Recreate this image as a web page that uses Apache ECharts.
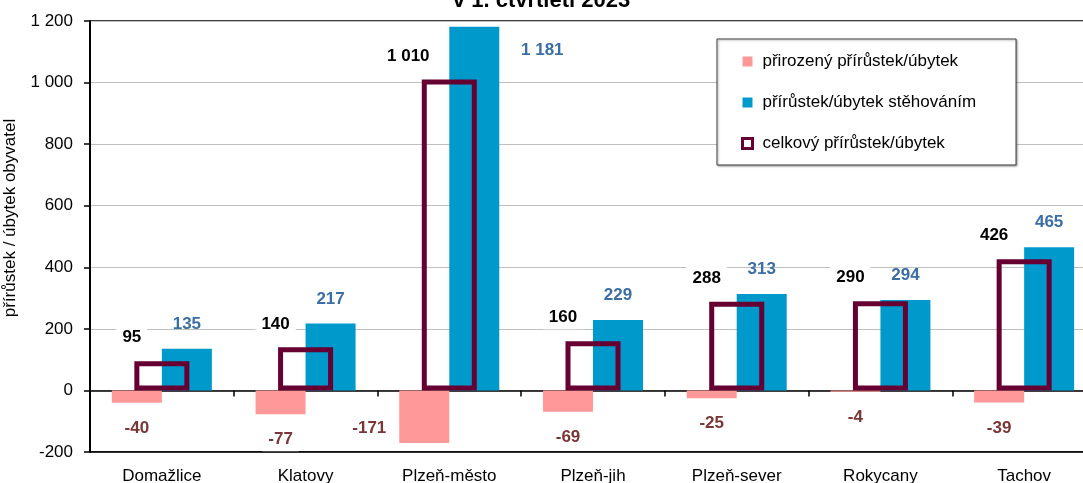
<!DOCTYPE html>
<html>
<head>
<meta charset="utf-8">
<script src="https://cdn.jsdelivr.net/npm/echarts@6/dist/echarts.min.js"></script>
<style>
    html, body { margin: 0; padding: 0; background: #fff; }
    #chart { width: 1083px; height: 483px; }
</style>
</head>
<body>
<div id="chart"></div>
<script>
var categories = ['Domažlice', 'Klatovy', 'Plzeň-město', 'Plzeň-jih', 'Plzeň-sever', 'Rokycany', 'Tachov'];
var naturalValues = [-40, -77, -171, -69, -25, -4, -39];
var migrationValues = [135, 217, 1181, 229, 313, 294, 465];
var totalValues = [95, 140, 1010, 160, 288, 290, 426];
var yMin = -200, yMax = 1200, yStep = 200;

var seriesNames = ['přirozený přírůstek/úbytek', 'přírůstek/úbytek stěhováním', 'celkový přírůstek/úbytek'];

// labels moved by hand in the original (Plzeň-město)
var naturalShift = { 2: [-55, -40] };
var migrationShift = { 2: [68, 48] };
var totalShift = { 2: [-41, 0] };

function fmt(v) {
    return String(v).replace(/\B(?=(\d{3})+(?!\d))/g, ' ');
}

function buildData(values, shifts) {
    return values.map(function (v, i) {
        if (shifts[i]) {
            return { value: v, label: { offset: shifts[i] } };
        }
        return v;
    });
}

var labelBase = {
    show: true,
    fontFamily: 'Liberation Sans',
    fontSize: 17,
    fontWeight: 'bold',
    backgroundColor: '#fff',
    padding: [3, 6],
    formatter: function (p) { return fmt(p.value); }
};

var option = {
    animation: false,
    backgroundColor: '#fff',
    textStyle: { fontFamily: 'Liberation Sans' },
    title: {
        text: 'v 1. čtvrtletí 2023',
        left: 'center',
        top: -15,
        textStyle: { fontSize: 22, fontWeight: 'bold', color: '#000', fontFamily: 'Liberation Sans' }
    },
    legend: {
        orient: 'vertical',
        left: 717,
        top: 39,
        padding: [14, 40, 13, 24],
        itemGap: 24,
        itemWidth: 10,
        itemHeight: 10,
        backgroundColor: '#fff',
        borderColor: '#404040',
        borderWidth: 1,
        shadowColor: 'rgba(0,0,0,0.35)',
        shadowBlur: 2,
        shadowOffsetX: 1,
        shadowOffsetY: 1,
        textStyle: { fontSize: 17, color: '#000', padding: [0, 0, 0, 5] },
        data: [
            { name: seriesNames[0], icon: 'rect' },
            { name: seriesNames[1], icon: 'rect' },
            { name: seriesNames[2], icon: 'rect', itemStyle: { color: '#fff', borderColor: '#660033', borderWidth: 3 } }
        ]
    },
    grid: {
        left: 90,
        top: 21,
        width: 1006,
        height: 431,
        outerBoundsMode: 'none',
        containLabel: false,
        show: true,
        borderColor: '#000',
        borderWidth: 1.5
    },
    xAxis: [{
        type: 'category',
        data: categories,
        position: 'bottom',
        axisLine: { onZero: false, lineStyle: { color: '#000', width: 1.5 } },
        axisTick: { show: false },
        axisLabel: { color: '#000', fontSize: 17, margin: 16 }
    }, {
        type: 'category',
        data: categories,
        position: 'top',
        axisLine: { onZero: true, lineStyle: { color: '#000', width: 1.5 } },
        axisTick: { show: true, inside: true, length: 6, lineStyle: { color: '#000', width: 1.5 } },
        axisLabel: { show: false }
    }],
    yAxis: {
        type: 'value',
        min: yMin,
        max: yMax,
        interval: yStep,
        name: 'přírůstek / úbytek obyvatel',
        nameLocation: 'middle',
        nameGap: 71,
        nameTextStyle: { fontSize: 17, color: '#000', padding: [0, 0, 0, 37] },
        axisLine: { show: true, lineStyle: { color: '#000', width: 2 } },
        axisTick: { show: true, length: 6, lineStyle: { color: '#000', width: 1.5 } },
        axisLabel: {
            color: '#000',
            fontSize: 17,
            margin: 17,
            formatter: function (v) { return fmt(v); }
        },
        splitLine: { lineStyle: { color: '#bfbfbf', width: 1 } }
    },
    series: [{
        name: seriesNames[0],
        type: 'bar',
        xAxisIndex: 0,
        barWidth: 50,
        barGap: '0%',
        itemStyle: { color: '#ff9999' },
        label: Object.assign({}, labelBase, { position: 'bottom', distance: 14, color: '#7b3535' }),
        data: buildData(naturalValues, naturalShift)
    }, {
        name: seriesNames[1],
        type: 'bar',
        xAxisIndex: 0,
        barWidth: 50,
        barGap: '0%',
        itemStyle: { color: '#0099cc' },
        label: Object.assign({}, labelBase, { position: 'top', distance: 13, color: '#3a6ea5', backgroundColor: 'transparent' }),
        data: buildData(migrationValues, migrationShift)
    }, {
        name: seriesNames[2],
        type: 'bar',
        xAxisIndex: 1,
        barWidth: 55,
        z: 5,
        itemStyle: { color: 'transparent', borderColor: '#660033', borderWidth: 5 },
        label: Object.assign({}, labelBase, { position: 'top', distance: 12, color: '#000', offset: [-30, 0] }),
        data: buildData(totalValues, totalShift)
    }]
};

var myChart = echarts.init(document.getElementById('chart'));
myChart.setOption(option);
</script>
</body>
</html>
